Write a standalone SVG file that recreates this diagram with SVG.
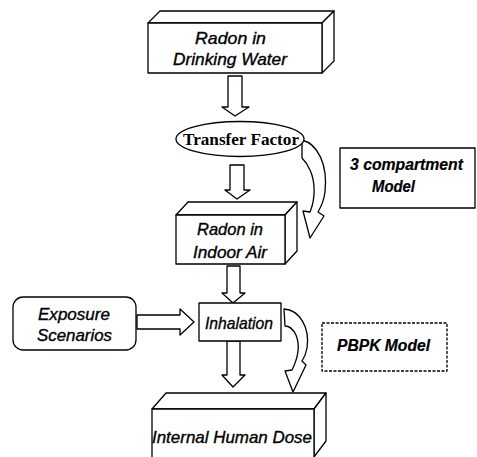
<svg xmlns="http://www.w3.org/2000/svg" width="477" height="457" viewBox="0 0 477 457">
<style>
.s{fill:#fff;stroke:#000;stroke-width:1.3;stroke-linejoin:round}
.t{font-family:"Liberation Sans",Arial,sans-serif;font-style:italic;font-size:17px;fill:#000;stroke:#000;stroke-width:0.35;text-anchor:middle}
.b{font-weight:bold;font-size:16px;stroke-width:0.2}
.serif{font-family:"Liberation Serif","Times New Roman",serif;font-weight:bold;font-size:16px;text-anchor:middle;fill:#000}
</style>
<rect width="477" height="457" fill="#fff"/>
<g id="connectors">
<polygon class="s" points="228,76 242,76 242,107 249,107 235,116 222,107 228,107"/>
<polygon class="s" points="230,165 244,165 244,190 250,190 237,199 225,190 230,190"/>
<polygon class="s" points="227,266 240,266 240,293 245,293 233,303 222,293 227,293"/>
<polygon class="s" points="227,341 240,341 240,375 245,375 233,387 222,375 227,375"/>
<polygon class="s" points="137,315 180,315 180,309 194,322 180,335 180,329 137,329"/>
<path class="s" d="M302,140 C318,144 328,165 325,192 C324,200 321,207 318,212 L324,216 L310,238 L303,211 L310,212 C315,200 316,183 310,170 C307,163 304,160 302,158 Z"/>
<path class="s" d="M284,309 C300,310 310,328 307,348 C306,354 304,358 302,361 L306,365 L293,392 L285,371 L292,370 C298,358 300,345 296,335 C293,329 289,326 285,326 Z"/>
</g>
<g id="radon-water">
<polygon class="s" points="148,23 160,11 334,11 322,23"/>
<polygon class="s" points="322,23 334,11 334,61 322,73"/>
<rect class="s" x="148" y="23" width="174" height="50"/>
<text class="t" x="230.5" y="43.5" font-size="18" textLength="71" lengthAdjust="spacingAndGlyphs">Radon in</text>
<text class="t" x="230" y="64.5" font-size="18" textLength="114" lengthAdjust="spacingAndGlyphs">Drinking Water</text>
</g>
<g id="transfer-factor">
<ellipse class="s" cx="240" cy="139" rx="64" ry="17.5"/>
<text class="serif" x="241" y="145" textLength="116" lengthAdjust="spacingAndGlyphs">Transfer Factor</text>
</g>
<g id="compartment-model">
<rect class="s" x="340" y="148" width="135" height="60" stroke-width="1.2"/>
<text class="t b" x="406.5" y="170" textLength="113" lengthAdjust="spacingAndGlyphs">3 compartment</text>
<text class="t b" x="393.5" y="192" textLength="43" lengthAdjust="spacingAndGlyphs">Model</text>
</g>
<g id="radon-air">
<polygon class="s" points="176,215 188,202 297,202 285,215"/>
<polygon class="s" points="285,215 297,202 297,251 285,264"/>
<rect class="s" x="176" y="215" width="109" height="49"/>
<text class="t" x="230" y="234.5" textLength="66" lengthAdjust="spacingAndGlyphs">Radon in</text>
<text class="t" x="230" y="257.5" textLength="74" lengthAdjust="spacingAndGlyphs">Indoor Air</text>
</g>
<g id="exposure">
<rect class="s" x="13" y="297" width="123" height="53" rx="10"/>
<text class="t" x="74" y="320" textLength="72" lengthAdjust="spacingAndGlyphs">Exposure</text>
<text class="t" x="74.5" y="341" textLength="75" lengthAdjust="spacingAndGlyphs">Scenarios</text>
</g>
<g id="inhalation">
<rect class="s" x="199" y="303" width="82" height="38"/>
<text class="t" x="239" y="329" font-size="16" textLength="68" lengthAdjust="spacingAndGlyphs">Inhalation</text>
</g>
<g id="pbpk">
<rect class="s" x="322" y="323" width="125" height="48" stroke-width="1" stroke-dasharray="3 1.5"/>
<text class="t b" x="383.5" y="351" textLength="93" lengthAdjust="spacingAndGlyphs">PBPK Model</text>
</g>
<g id="internal-dose">
<polygon class="s" points="152,409 166,393 326,393 314,409"/>
<polygon class="s" points="314,409 326,393 326,441 314,457"/>
<rect class="s" x="152" y="409" width="162" height="50"/>
<text class="t" x="232" y="443" font-size="16" textLength="160" lengthAdjust="spacingAndGlyphs">Internal Human Dose</text>
</g>
</svg>
